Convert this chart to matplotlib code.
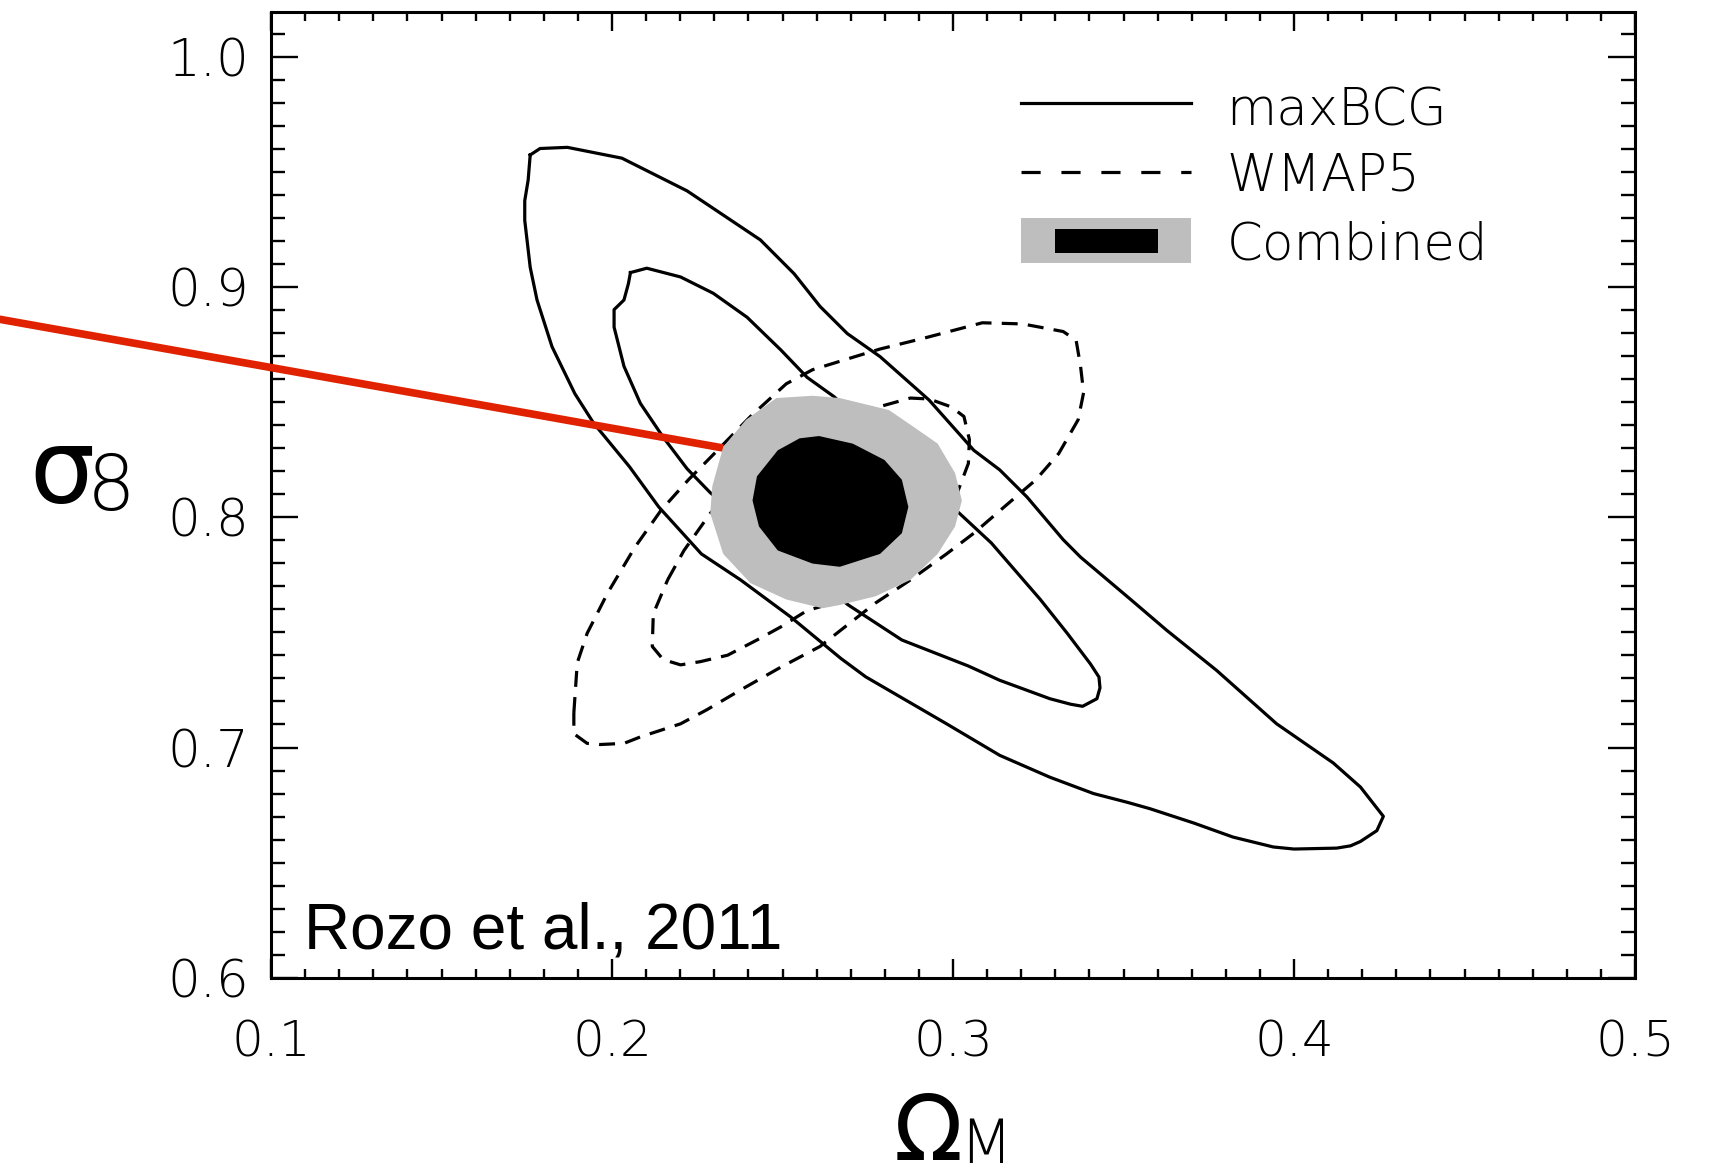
import numpy as np
import matplotlib.pyplot as plt
from matplotlib.ticker import MultipleLocator

# maxBCG contours (Omega_M, sigma_8)
bcg_outer_om = [0.1760, 0.1789, 0.1869, 0.2029, 0.2220, 0.2435, 0.2534, 0.2610, 0.2690, 0.2786,
                0.2930, 0.3061, 0.3137, 0.3217, 0.3323, 0.3374, 0.3521, 0.3626, 0.3773, 0.3949,
                0.4115, 0.4195, 0.4262, 0.4243, 0.4195, 0.4166, 0.4125, 0.4000, 0.3939, 0.3821,
                0.3706, 0.3578, 0.3511, 0.3412, 0.3284, 0.3137, 0.2981, 0.2744, 0.2671, 0.2524,
                0.2377, 0.2262, 0.2137, 0.2051, 0.1946, 0.1891, 0.1824, 0.1780, 0.1760, 0.1744,
                0.1744, 0.1754]
bcg_outer_s8 = [0.9574, 0.9602, 0.9607, 0.9560, 0.9418, 0.9205, 0.9058, 0.8916, 0.8798, 0.8698,
                0.8509, 0.8291, 0.8206, 0.8088, 0.7903, 0.7827, 0.7643, 0.7510, 0.7335, 0.7103,
                0.6933, 0.6828, 0.6701, 0.6639, 0.6592, 0.6573, 0.6563, 0.6559, 0.6568, 0.6611,
                0.6672, 0.6734, 0.6762, 0.6800, 0.6871, 0.6966, 0.7103, 0.7307, 0.7387, 0.7567,
                0.7728, 0.7841, 0.8045, 0.8220, 0.8409, 0.8537, 0.8741, 0.8944, 0.9086, 0.9290,
                0.9375, 0.9465]

bcg_inner_om = [0.2054, 0.2102, 0.2201, 0.2297, 0.2396, 0.2495, 0.2572, 0.2652, 0.2827, 0.3019,
                0.3112, 0.3256, 0.3335, 0.3403, 0.3428, 0.3431, 0.3422, 0.3380, 0.3345, 0.3284,
                0.3137, 0.3045, 0.2850, 0.2693, 0.2492, 0.2288, 0.2220, 0.2150, 0.2083, 0.2035,
                0.2006, 0.2006, 0.2035, 0.2048]
bcg_inner_s8 = [0.9063, 0.9082, 0.9044, 0.8973, 0.8869, 0.8727, 0.8608, 0.8523, 0.8267, 0.8017,
                0.7889, 0.7643, 0.7496, 0.7363, 0.7306, 0.7259, 0.7212, 0.7179, 0.7188, 0.7212,
                0.7292, 0.7354, 0.7467, 0.7619, 0.7856, 0.8107, 0.8211, 0.8348, 0.8495, 0.8656,
                0.8826, 0.8902, 0.8944, 0.9015]

# WMAP5 contours
wmap_outer_om = [0.1888, 0.1898, 0.1927, 0.1987, 0.2067, 0.2144, 0.2224, 0.2300, 0.2406, 0.2511,
                 0.2588, 0.2693, 0.2786, 0.2917, 0.3086, 0.3204, 0.3323, 0.3361, 0.3374, 0.3383,
                 0.3367, 0.3310, 0.3243, 0.3150, 0.3061, 0.2981, 0.2875, 0.2773, 0.2671, 0.2610,
                 0.2495, 0.2377, 0.2278, 0.2201, 0.2083, 0.2035, 0.1965, 0.1927, 0.1888]
wmap_outer_s8 = [0.7150, 0.7368, 0.7496, 0.7671, 0.7870, 0.8031, 0.8163, 0.8277, 0.8438, 0.8580,
                 0.8641, 0.8689, 0.8731, 0.8779, 0.8845, 0.8840, 0.8807, 0.8769, 0.8656, 0.8542,
                 0.8424, 0.8277, 0.8163, 0.8045, 0.7931, 0.7841, 0.7728, 0.7628, 0.7510, 0.7439,
                 0.7349, 0.7250, 0.7164, 0.7103, 0.7046, 0.7018, 0.7013, 0.7018, 0.7060]

wmap_inner_om = [0.2163, 0.2211, 0.2288, 0.2412, 0.2540, 0.2668, 0.2783, 0.2875, 0.2930, 0.2994,
                 0.3032, 0.3048, 0.3045, 0.3003, 0.2923, 0.2812, 0.2684, 0.2572, 0.2495, 0.2425,
                 0.2339, 0.2259, 0.2201, 0.2150, 0.2118, 0.2121]
wmap_inner_s8 = [0.7728, 0.7856, 0.8017, 0.8211, 0.8353, 0.8447, 0.8480, 0.8518, 0.8514, 0.8480,
                 0.8438, 0.8338, 0.8234, 0.8069, 0.7903, 0.7747, 0.7643, 0.7595, 0.7524, 0.7467,
                 0.7401, 0.7373, 0.7359, 0.7382, 0.7439, 0.7581]

# combined constraints (filled)
comb95_om = [0.2482, 0.2588, 0.2668, 0.2812, 0.2891, 0.2955, 0.3006, 0.3026, 0.3006, 0.2955,
             0.2875, 0.2773, 0.2668, 0.2617, 0.2511, 0.2406, 0.2326, 0.2288, 0.2294, 0.2326,
             0.2393]
comb95_s8 = [0.8518, 0.8528, 0.8518, 0.8466, 0.8386, 0.8320, 0.8192, 0.8073, 0.7960, 0.7841,
             0.7728, 0.7657, 0.7619, 0.7605, 0.7643, 0.7714, 0.7841, 0.8017, 0.8135, 0.8305,
             0.8424]
comb68_om = [0.2607, 0.2706, 0.2799, 0.2850, 0.2869, 0.2850, 0.2786, 0.2668, 0.2588, 0.2486,
             0.2431, 0.2412, 0.2425, 0.2486, 0.2550]
comb68_s8 = [0.8353, 0.8320, 0.8249, 0.8163, 0.8045, 0.7931, 0.7841, 0.7785, 0.7799, 0.7856,
             0.7960, 0.8073, 0.8178, 0.8291, 0.8343]

# red pointer
pointer_om = [0.0, 0.2326]
pointer_s8 = [0.8914, 0.8301]

xticks = [0.1, 0.2, 0.3, 0.4, 0.5]
yticks = [0.6, 0.7, 0.8, 0.9, 1.0]

THIN = dict(family='DejaVu Sans', weight='light')


def closed(a):
    return list(a) + [a[0]]


fig = plt.figure(figsize=(17.09, 11.76), dpi=100)
ax = fig.add_axes([0.1586, 0.1686, 0.7981, 0.8214])

lw = 2.3
ax.plot(closed(bcg_outer_om), closed(bcg_outer_s8), color='k', lw=lw, zorder=2)
ax.plot(closed(bcg_inner_om), closed(bcg_inner_s8), color='k', lw=lw, zorder=2)
ax.plot(closed(wmap_outer_om), closed(wmap_outer_s8), color='k', lw=lw, dashes=(5, 3.2), zorder=2)
ax.plot(closed(wmap_inner_om), closed(wmap_inner_s8), color='k', lw=lw, dashes=(5, 3.2), zorder=2)

ax.fill(comb95_om, comb95_s8, color='#bebebe', lw=0, zorder=4)
ax.fill(comb68_om, comb68_s8, color='k', lw=0, zorder=5)

ax.plot(pointer_om, pointer_s8, color='#e02200', lw=5.5, solid_capstyle='butt', clip_on=False, zorder=3.5)

ax.set_xlim(0.1, 0.5)
ax.set_ylim(0.6, 1.0196)
ax.set_xticks(xticks)
ax.set_yticks(yticks)
ax.set_xticklabels(['%.1f' % v for v in xticks], fontdict=THIN, fontsize=36)
ax.set_yticklabels(['%.1f' % v for v in yticks], fontdict=THIN, fontsize=37)
ax.xaxis.set_minor_locator(MultipleLocator(0.01))
ax.yaxis.set_minor_locator(MultipleLocator(0.01))
ax.tick_params(axis='both', which='both', direction='in', top=True, right=True, width=1.7)
ax.tick_params(axis='x', which='major', length=13.7, pad=29)
ax.tick_params(axis='x', which='minor', length=6.8)
ax.tick_params(axis='y', which='major', length=19.4, pad=16)
ax.tick_params(axis='y', which='minor', length=10)
for s in ax.spines.values():
    s.set_linewidth(2.2)

# legend drawn by hand
ax.plot([0.5499, 0.6745], [0.9055, 0.9055], transform=ax.transAxes, color='k', lw=lw)
ax.plot([0.5499, 0.6745], [0.834, 0.834], transform=ax.transAxes, color='k', lw=lw, dashes=(6, 6.5))
ax.add_patch(plt.Rectangle((0.5499, 0.7395), 0.1246, 0.0466, transform=ax.transAxes,
                           color='#bebebe', lw=0))
ax.add_patch(plt.Rectangle((0.5744, 0.7505), 0.0758, 0.0246, transform=ax.transAxes,
                           color='k', lw=0))
for lab, yy in [('maxBCG', 0.8965), ('WMAP5', 0.830), ('Combined', 0.7585)]:
    ax.text(0.7005, yy, lab, transform=ax.transAxes, ha='left', va='center', fontsize=37, **THIN)

ax.text(0.0242, 0.0307, 'Rozo et al., 2011', transform=ax.transAxes, ha='left', va='baseline',
        fontsize=46, family='Liberation Sans')

# axis labels
fig.text(0.0170, 0.5723, 'σ', fontsize=74, ha='left', va='baseline', family='DejaVu Sans')
fig.text(0.0505, 0.5663, '8', fontsize=55, ha='left', va='baseline', **THIN)
fig.text(0.5230, 0.0140, 'Ω', fontsize=65, ha='left', va='baseline', family='DejaVu Sans')
fig.text(0.5610, 0.0110, 'M', fontsize=44, ha='left', va='baseline', **THIN)

fig.savefig('out.png', dpi=100)
